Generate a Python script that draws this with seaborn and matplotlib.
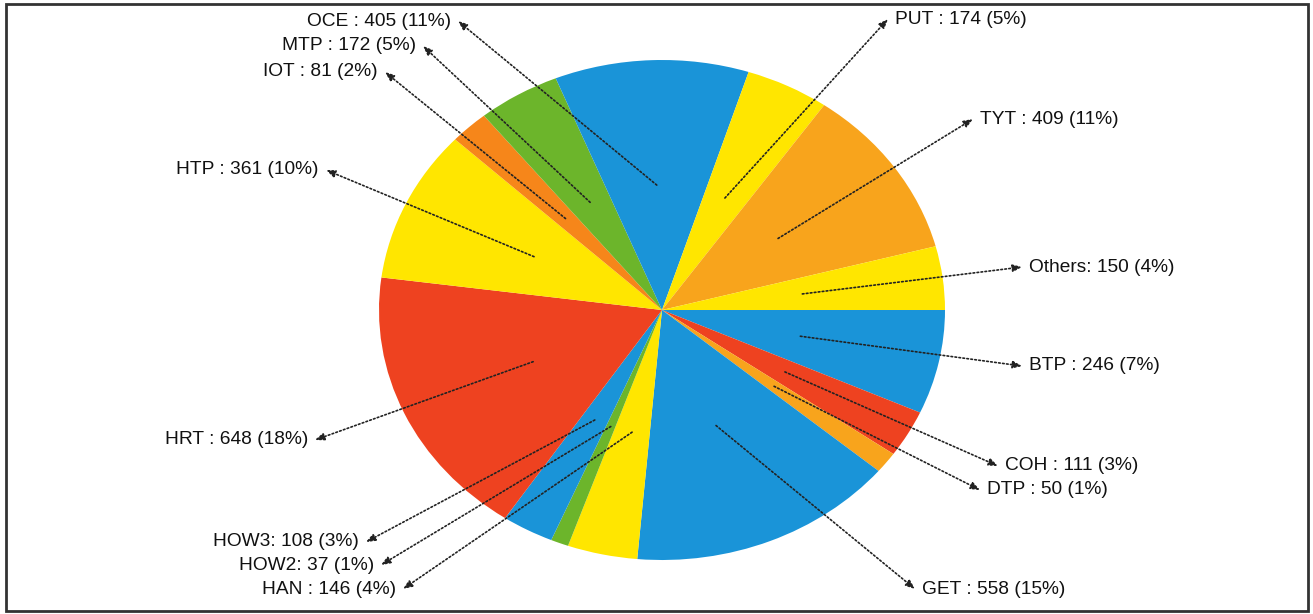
import numpy as np
import seaborn as sns
import matplotlib
matplotlib.use('Agg')
import matplotlib.pyplot as plt
from matplotlib.patches import Rectangle

# data (alphabetical, clockwise from 3 o'clock, Others last)
names = ['BTP', 'COH', 'DTP', 'GET', 'HAN', 'HOW2', 'HOW3', 'HRT', 'HTP',
         'IOT', 'MTP', 'OCE', 'PUT', 'TYT', 'Others']
counts = [246, 111, 50, 558, 146, 37, 108, 648, 361, 81, 172, 405, 174, 409, 150]
pcts = [7, 3, 1, 15, 4, 1, 3, 18, 10, 2, 5, 11, 5, 11, 4]
labels = ['BTP : 246 (7%)', 'COH : 111 (3%)', 'DTP : 50 (1%)', 'GET : 558 (15%)',
          'HAN : 146 (4%)', 'HOW2: 37 (1%)', 'HOW3: 108 (3%)', 'HRT : 648 (18%)',
          'HTP : 361 (10%)', 'IOT : 81 (2%)', 'MTP : 172 (5%)', 'OCE : 405 (11%)',
          'PUT : 174 (5%)', 'TYT : 409 (11%)', 'Others: 150 (4%)']

# colours per slice
blue, red, orange, orange2, yellow, green = '#1A94D8', '#EE4220', '#F8A41C', '#F6861A', '#FFE600', '#6CB52B'
colors = [blue, red, orange, blue, yellow, green, blue, red, yellow,
          orange2, green, blue, yellow, orange, yellow]

# arrow tip next to each label, in image pixels (layout only)
tips = [(1022, 366), (998, 466), (980, 490), (915, 589), (403, 589), (381, 565),
        (366, 542), (315, 440), (326, 170), (385, 72), (423, 46), (458, 21),
        (888, 19), (973, 119), (1022, 267)]

W, H = 1313, 614
cx, cy, rx, ry = 662, 310, 283, 250


def px(x, y):
    return (x - cx) / rx, (cy - y) / ry


sns.set_theme(style='white')
plt.rcParams['font.family'] = ['Liberation Sans', 'DejaVu Sans']

fig = plt.figure(figsize=(W / 100, H / 100), dpi=100)
ax = fig.add_axes([0, 0, 1, 1])
wedges, _ = ax.pie(counts, colors=colors, startangle=0, counterclock=False,
                   radius=1, center=(0, 0), wedgeprops=dict(linewidth=0))
ax.set_aspect('auto')
ax.set_xlim(px(0, 0)[0], px(W, 0)[0])
ax.set_ylim(px(0, H)[1], px(0, 0)[1])
ax.axis('off')

for w, lab, tip in zip(wedges, labels, tips):
    mid = np.deg2rad((w.theta1 + w.theta2) / 2)
    tail = (0.5 * np.cos(mid), 0.5 * np.sin(mid))
    tx, ty = px(*tip)
    ax.annotate('', xy=(tx, ty), xytext=tail,
                arrowprops=dict(arrowstyle='-|>,head_length=0.45,head_width=0.18',
                                linestyle=(0, (1, 1.4)), lw=1.2, color='#222222',
                                shrinkA=0, shrinkB=0))
    left = tip[0] < cx
    off = -7 if left else 7
    ax.text(*px(tip[0] + off, tip[1]), lab, ha='right' if left else 'left',
            va='center', fontsize=13.8, color='#111111')

# outer frame of the image
fig.patches.append(Rectangle((6 / W, 3 / H), 1302 / W, 607 / H, transform=fig.transFigure,
                             fill=False, edgecolor='#333333', linewidth=2))

fig.savefig('out.png', dpi=100)
